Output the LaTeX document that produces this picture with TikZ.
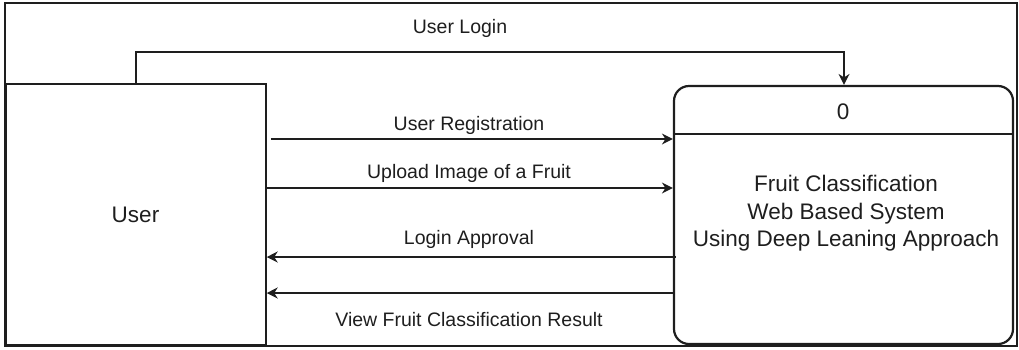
\documentclass[tikz,border=0pt]{standalone}
\usepackage{fontspec}
\setmainfont{Liberation Sans}
\usetikzlibrary{arrows.meta}
\definecolor{ink}{HTML}{1E1E1E}
\tikzset{
  flow/.style={draw=ink, line width=1.5pt, -{Stealth[length=11pt,width=11pt]}},
  lbl/.style={text=ink, font=\fontsize{19.5}{22}\selectfont, inner sep=0pt},
  biglbl/.style={text=ink, font=\fontsize{22.5}{27.5}\selectfont, inner sep=0pt, align=center},
  entity/.style={draw=ink, line width=1.5pt, rectangle, inner sep=0pt},
  process/.style={draw=ink, line width=2.2pt, rectangle, rounded corners=15pt, inner sep=0pt}
}
\begin{document}
\begin{tikzpicture}[x=1pt,y=-1pt]
  \useasboundingbox (0,0) rectangle (1019,349);
  % outer frame
  \draw[ink, line width=2pt] (4.5,2.5) rectangle (1016.5,345.5);

  % external entity and process
  \node[entity, minimum width=260pt, minimum height=261pt] (user) at (136,214.5) {};
  \node[biglbl] (usertext) at (135.5,215) {User};
  \node[process, minimum width=339pt, minimum height=258pt] (proc) at (843.5,215) {};
  \draw[ink, line width=2pt] (proc.west |- 0,134) coordinate (divl) -- (proc.east |- 0,134) coordinate (divr);
  \node[biglbl] (procid) at (843,112) {0};
  \node[biglbl] (procname) at (846,213.5) {Fruit Classification\\Web Based System\\Using Deep Leaning Approach};

  % login flow over the top
  \coordinate (lgA) at (user.north |- 0,52);
  \coordinate (lgB) at (proc.north -| 844,0);
  \draw[flow] (user.north) -- (lgA) -- (lgB |- lgA) -- (lgB);
  \node[lbl] (lglbl) at (460,28) {User Login};

  % flows from user to system
  \draw[flow] ([xshift=4pt]user.east |- 0,139) -- (proc.west |- 0,139);
  \node[lbl] (reglbl) at (469,125) {User Registration};
  \draw[flow] (user.east |- 0,188) -- (proc.west |- 0,188);
  \node[lbl] (uplbl) at (469,173) {Upload Image of a Fruit};

  % flows from system to user
  \draw[flow] ([xshift=3pt]proc.west |- 0,257) -- (user.east |- 0,257);
  \node[lbl] (aplbl) at (469,239) {Login Approval};
  \draw[flow] (proc.west |- 0,293) -- (user.east |- 0,293);
  \node[lbl] (reslbl) at (469,320) {View Fruit Classification Result};
\end{tikzpicture}
\end{document}
